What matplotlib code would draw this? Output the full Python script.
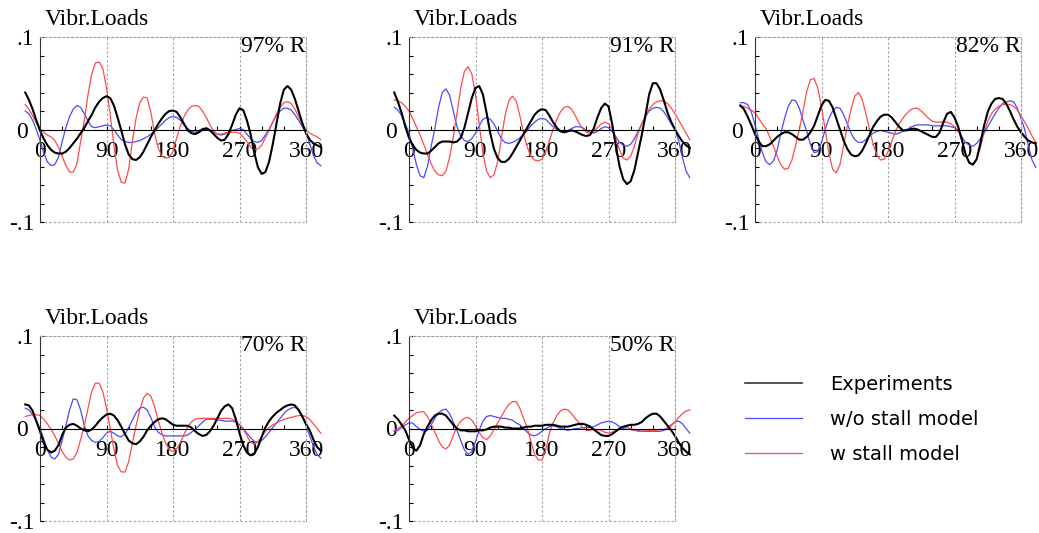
import matplotlib.pyplot as plt
from matplotlib.transforms import ScaledTranslation

# azimuth (deg), shared by every curve
angle = list(range(-20, 385, 5))

# 97% R
exp_97 = [.040, .032, .022, .010, -.001, -.010, -.017, -.022, -.025, -.026,
          -.026, -.024, -.020, -.015, -.010, -.004, .002, .009, .016, .024,
          .030, .034, .036, .034, .026, .013, -.001, -.016, -.027, -.032,
          -.033, -.030, -.024, -.016, -.008, -.001, .006, .012, .017, .020,
          .0205, .019, .013, .006, -.001, -.004, -.005, -.003, .000, .001,
          -.001, -.005, -.009, -.012, -.011, -.005, .005, .016, .023, .021,
          .010, -.005, -.025, -.041, -.048, -.046, -.035, -.016, .006, .028,
          .043, .047, .043, .033, .020, .007, -.004, -.011, -.015, -.017,
          -.019]
w_97 = [.027, .022, .015, .007, .001, -.003, -.006, -.008, -.012, -.019,
        -.029, -.039, -.046, -.046, -.037, -.013, .010, .038, .060, .072,
        .073, .066, .045, .016, -.017, -.044, -.057, -.058, -.043, -.013,
        .012, .029, .035, .034, .019, -.004, -.020, -.029, -.031, -.030,
        -.024, -.009, .004, .014, .021, .025, .026, .025, .020, .013,
        .005, -.002, -.005, -.005, -.004, -.003, -.003, -.003, -.004, -.008,
        -.013, -.019, -.022, -.021, -.017, -.009, -.001, .008, .017, .024,
        .029, .030, .028, .022, .014, .005, -.001, -.004, -.006, -.008,
        -.011]
wo_97 = [.020, .017, .010, .000, -.012, -.025, -.035, -.039, -.038, -.030,
         -.013, .002, .014, .022, .026, .024, .017, .009, .003, .002,
         .003, .004, .005, .004, .000, -.006, -.011, -.013, -.014, -.014,
         -.013, -.012, -.010, -.008, -.005, -.002, .002, .006, .010, .013,
         .014, .013, .010, .005, .001, -.002, -.003, -.001, .001, .002,
         .000, -.003, -.005, -.006, -.005, -.003, -.001, .000, .001, .000,
         -.005, -.010, -.013, -.014, -.012, -.006, .000, .008, .015, .020,
         .023, .023, .021, .016, .010, .003, -.003, -.015, -.028, -.036,
         -.039]

# 91% R
exp_91 = [.040, .030, .018, .003, -.009, -.017, -.022, -.025, -.026, -.026,
          -.023, -.019, -.015, -.013, -.013, -.013, -.014, -.013, -.009, .002,
          .018, .034, .045, .047, .038, .018, -.004, -.021, -.031, -.035,
          -.035, -.032, -.026, -.019, -.012, -.005, .002, .009, .016, .020,
          .022, .021, .015, .008, .002, -.002, -.003, -.002, -.001, -.002,
          -.004, -.006, -.007, -.006, .001, .013, .023, .028, .025, .006,
          -.018, -.040, -.054, -.059, -.056, -.044, -.025, -.006, .015, .038,
          .050, .050, .043, .031, .018, .008, .000, -.007, -.013, -.017,
          -.020]
w_91 = [.032, .031, .029, .025, .020, .012, .003, -.006, -.016, -.027,
        -.037, -.045, -.049, -.050, -.045, -.030, -.008, .018, .044, .063,
        .068, .060, .038, .006, -.025, -.045, -.052, -.049, -.035, -.010,
        .015, .031, .036, .031, .015, -.004, -.019, -.029, -.033, -.034,
        -.032, -.024, -.012, .000, .011, .019, .024, .025, .022, .015,
        .007, .001, -.003, -.004, -.002, .002, .006, .008, .006, .001,
        -.010, -.022, -.031, -.033, -.029, -.018, -.004, .006, .015, .022,
        .027, .030, .031, .031, .028, .023, .017, .010, .003, -.004,
        -.011]
wo_91 = [.024, .021, .015, .006, -.004, -.020, -.038, -.050, -.052, -.040,
         -.018, .001, .024, .040, .044, .037, .020, .003, -.007, -.012,
         -.013, -.010, -.004, .004, .011, .013, .011, .006, -.002, -.010,
         -.014, -.015, -.014, -.012, -.009, -.005, -.001, .004, .008, .011,
         .012, .011, .007, .003, .000, -.002, -.002, -.001, .001, .003,
         .003, .002, -.001, -.003, -.004, -.002, .001, .003, .002, -.002,
         -.008, -.014, -.017, -.018, -.016, -.010, -.002, .006, .014, .020,
         .023, .024, .023, .019, .013, .006, .000, -.012, -.030, -.045,
         -.052]

# 82% R
exp_82 = [.026, .022, .014, .005, -.005, -.013, -.018, -.018, -.016, -.012,
          -.008, -.005, -.003, -.003, -.005, -.008, -.011, -.011, -.008, -.003,
          .004, .015, .026, .032, .031, .024, .012, .000, -.012, -.021,
          -.027, -.029, -.028, -.023, -.015, -.006, .003, .009, .014, .016,
          .016, .013, .008, .003, -.001, -.001, .000, .001, .000, -.002,
          -.004, -.006, -.008, -.008, -.003, .008, .017, .019, .013, .003,
          -.011, -.027, -.036, -.038, -.032, -.015, .004, .019, .028, .033,
          .034, .033, .028, .020, .011, .003, -.003, -.008, -.012, -.014,
          -.015]
w_82 = [.025, .025, .023, .021, .018, .012, .006, .001, -.008, -.018,
        -.029, -.038, -.043, -.042, -.033, -.017, .000, .020, .041, .054,
        .055, .045, .024, .000, -.025, -.043, -.047, -.038, -.017, .004,
        .022, .036, .040, .033, .017, .000, -.016, -.028, -.033, -.032,
        -.024, -.013, -.002, .006, .012, .017, .021, .023, .023, .020,
        .016, .012, .009, .008, .008, .008, .008, .006, .003, -.001,
        -.012, -.026, -.036, -.038, -.032, -.020, -.003, .009, .017, .022,
        .025, .027, .027, .027, .025, .021, .015, .008, .001, -.007,
        -.014]
wo_82 = [.029, .029, .027, .019, .005, -.010, -.025, -.035, -.038, -.034,
         -.022, -.004, .012, .025, .032, .031, .023, .010, -.002, -.016,
         -.025, -.024, -.014, .000, .012, .020, .024, .023, .016, .006,
         -.004, -.011, -.014, -.014, -.011, -.007, -.004, -.002, -.001, -.002,
         -.003, -.004, -.005, -.004, -.002, .000, .002, .004, .005, .005,
         .005, .005, .004, .004, .004, .004, .004, .003, .002, -.002,
         -.008, -.014, -.017, -.018, -.015, -.010, -.004, .003, .010, .017,
         .023, .028, .030, .031, .030, .023, .012, .000, -.018, -.033,
         -.041]

# 70% R
exp_70 = [.026, .025, .019, .008, -.003, -.015, -.023, -.026, -.024, -.018,
          -.007, .001, .004, .005, .003, .000, -.002, -.003, -.001, .003,
          .008, .012, .015, .016, .014, .009, .002, -.006, -.013, -.016,
          -.017, -.014, -.009, -.002, .003, .007, .010, .011, .010, .007,
          .004, .003, .003, .003, .003, .001, -.003, -.006, -.008, -.007,
          -.003, .003, .011, .019, .024, .026, .022, .010, -.005, -.018,
          -.026, -.029, -.027, -.020, -.009, .001, .008, .013, .017, .020,
          .023, .025, .026, .025, .020, .013, .005, -.002, -.012, -.020,
          -.024]
w_70 = [.013, .014, .015, .015, .014, .010, .005, -.001, -.008, -.016,
        -.025, -.031, -.034, -.033, -.026, -.012, .003, .022, .040, .049,
        .049, .040, .022, .000, -.022, -.040, -.047, -.047, -.036, -.016,
        .003, .020, .033, .038, .035, .024, .009, -.005, -.016, -.023,
        -.025, -.022, -.015, -.006, .002, .007, .010, .011, .011, .011,
        .011, .011, .011, .011, .011, .011, .010, .008, .004, .000,
        -.008, -.015, -.017, -.014, -.009, -.003, .001, .004, .006, .008,
        .010, .011, .012, .013, .014, .014, .013, .010, .005, .000,
        -.005]
wo_70 = [.022, .020, .015, .008, .000, -.011, -.023, -.031, -.033, -.028,
         -.013, .003, .020, .032, .031, .020, .003, -.008, -.013, -.015,
         -.014, -.010, -.005, -.003, -.005, -.008, -.009, -.006, .001, .009,
         .017, .022, .023, .020, .012, .002, -.004, -.007, -.008, -.008,
         -.008, -.008, -.008, -.008, -.007, -.004, -.001, .003, .007, .010,
         .010, .010, .009, .009, .008, .008, .008, .007, .004, .000,
         -.005, -.010, -.014, -.015, -.013, -.009, -.004, .001, .006, .011,
         .016, .020, .022, .023, .020, .013, .003, -.008, -.019, -.028,
         -.032]

# 50% R
exp_50 = [.014, .010, .004, -.002, -.012, -.021, -.024, -.018, -.006, .002,
          .009, .014, .016, .016, .014, .009, .004, .000, -.002, -.002,
          -.003, -.003, -.003, -.002, -.002, -.001, .001, .002, .002, .002,
          .001, .001, .000, .000, .000, .001, .002, .002, .003, .003,
          .003, .004, .004, .004, .003, .002, .002, .002, .003, .004,
          .005, .005, .004, .002, -.001, -.004, -.007, -.008, -.008, -.006,
          -.003, .000, .002, .003, .004, .004, .005, .007, .011, .014,
          .016, .016, .013, .008, .003, -.002, -.008, -.015, -.021, -.025,
          -.028]
w_50 = [-.002, .000, .003, .007, .011, .014, .017, .018, .018, .013,
        .005, -.004, -.013, -.020, -.022, -.018, -.007, .002, .008, .011,
        .012, .009, .003, -.004, -.010, -.012, -.008, -.001, .006, .013,
        .020, .026, .029, .029, .022, .011, .001, -.014, -.028, -.034,
        -.034, -.023, -.005, .006, .014, .019, .021, .020, .016, .011,
        .006, .001, -.002, -.002, -.001, -.001, -.002, -.004, -.005, -.004,
        -.002, .000, .002, .001, .000, -.002, -.003, -.003, -.002, -.002,
        -.002, -.002, -.001, -.001, .000, .003, .007, .012, .016, .019,
        .020]
wo_50 = [-.003, -.002, .001, .004, .006, .006, .002, -.001, -.003, -.002,
         .004, .011, .017, .020, .021, .016, .007, -.002, -.013, -.023,
         -.028, -.025, -.014, -.002, .008, .013, .014, .013, .012, .011,
         .011, .010, .009, .006, .004, .000, -.004, -.007, -.008, -.006,
         -.003, .000, .002, .003, .002, .000, -.001, -.002, -.001, .000,
         .000, .001, .001, .001, .002, .004, .006, .007, .008, .007,
         .005, .002, .000, -.001, -.001, -.002, -.002, -.003, -.003, -.003,
         -.003, -.003, -.003, -.002, .001, .004, .007, .008, .005, .000,
         -.005]

panels = [("97% R", exp_97, wo_97, w_97),
          ("91% R", exp_91, wo_91, w_91),
          ("82% R", exp_82, wo_82, w_82),
          ("70% R", exp_70, wo_70, w_70),
          ("50% R", exp_50, wo_50, w_50)]

W, H = 1039, 533
# left / top corner of every axes box, in pixels
corners = [(40, 37), (409, 37), (755, 37), (40, 336), (409, 336)]
bw, bh = 266, 185

serif = 'Liberation Serif'
grey = '#a0a0a0'
dash = (0, (2, 2))
fs = 17

fig = plt.figure(figsize=(W / 100, H / 100), dpi=100)

for (left, top), (tag, exp, wo, ws) in zip(corners, panels):
    ax = fig.add_axes([left / W, 1 - (top + bh) / H, bw / W, bh / H])
    ax.set_xlim(0, 360)
    ax.set_ylim(-0.1, 0.1)

    for x in (90, 180, 270):
        ax.axvline(x, color=grey, ls=dash, lw=0.8, zorder=0)
    ax.axhline(-0.1, color=grey, ls=dash, lw=0.8, zorder=0, clip_on=False)
    for side in ('top', 'right'):
        ax.spines[side].set(linestyle=dash, color=grey, linewidth=0.8)
    ax.spines['bottom'].set_position(('data', 0))
    ax.spines['bottom'].set(linewidth=0.8, color='black')
    ax.spines['left'].set(linewidth=0.8, color='#333333')

    l_wo, = ax.plot(angle, wo, color='#4a4aff', lw=0.9, clip_on=False)
    l_w, = ax.plot(angle, ws, color='#ff4a4a', lw=0.9, clip_on=False)
    l_exp, = ax.plot(angle, exp, color='black', lw=1.5, clip_on=False)

    ax.set_xticks([0, 90, 180, 270, 360])
    ax.set_xticklabels(['0', '90', '180', '270', '360'], family=serif, fontsize=fs)
    ax.set_xticks(range(0, 361, 30), minor=True)
    ax.tick_params(axis='x', which='both', direction='in', length=3, width=0.8, pad=8)

    ax.set_yticks([-0.1, 0, 0.1])
    ax.set_yticklabels(['-.1', '0', '.1'], family=serif, fontsize=fs)
    ax.set_yticks([-0.08, -0.06, -0.04, -0.02, 0.02, 0.04, 0.06, 0.08], minor=True)
    ax.tick_params(axis='y', which='both', direction='in', length=3, width=0.8, pad=4)
    zero_lab = ax.get_yticklabels()[1]
    zero_lab.set_transform(zero_lab.get_transform() +
                           ScaledTranslation(-0.07, 0, fig.dpi_scale_trans))

    ax.annotate('Vibr.Loads', xy=(0, 1), xycoords='axes fraction', xytext=(5, 12),
                textcoords='offset pixels', ha='left', va='baseline',
                family=serif, fontsize=fs)
    ax.annotate(tag, xy=(1, 1), xycoords='axes fraction', xytext=(0, -15),
                textcoords='offset pixels', ha='right', va='baseline',
                family=serif, fontsize=fs)

leg = fig.legend([l_exp, l_wo, l_w], ['Experiments', 'w/o stall model', 'w stall model'],
                 loc='upper left', bbox_to_anchor=(745 / W, 1 - 375 / H), frameon=False,
                 borderpad=0, borderaxespad=0, handlelength=2.93, handletextpad=1.43,
                 labelspacing=0.82, prop={'family': 'DejaVu Sans', 'size': 14})
leg.get_lines()[0].set(color='#333333', linewidth=1.2)

fig.savefig('out.png', dpi=100)
